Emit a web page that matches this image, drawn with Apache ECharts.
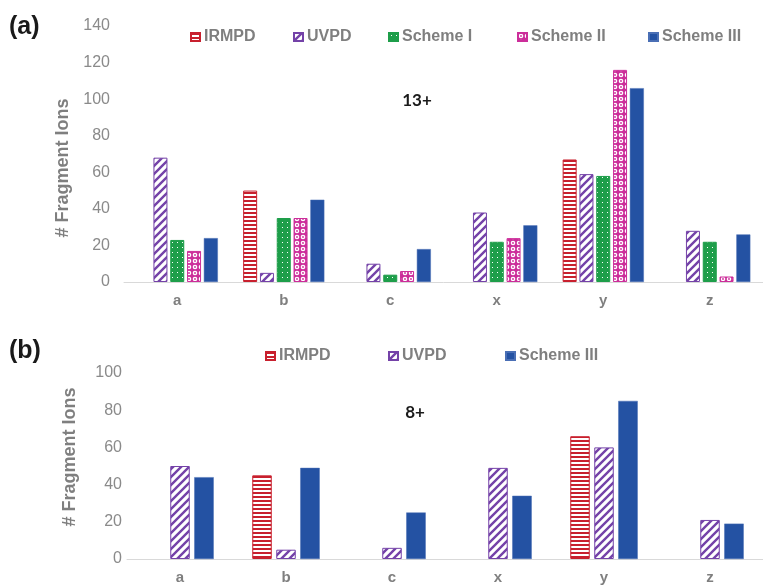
<!DOCTYPE html>
<html><head><meta charset="utf-8">
<script src="https://cdn.jsdelivr.net/npm/echarts@6/dist/echarts.min.js"></script>
<style>html,body{margin:0;padding:0;background:#fff}#c{width:763px;height:586px}</style>
</head><body><div id="c"></div>
<script>
// ---- data ----
const categories = ['a', 'b', 'c', 'x', 'y', 'z'];
const namesA = ['IRMPD', 'UVPD', 'Scheme I', 'Scheme II', 'Scheme III'];
const irmpdA   = [null, 50, null, null, 67, null];
const uvpdA    = [68, 5, 10, 38, 59, 28];
const scheme1A = [23, 35, 4, 22, 58, 22];
const scheme2A = [17, 35, 6, 24, 116, 3];
const scheme3A = [24, 45, 18, 31, 106, 26];
const namesB = ['IRMPD', 'UVPD', 'Scheme III'];
const irmpdB   = [null, 45, null, null, 66, null];
const uvpdB    = [50, 5, 6, 49, 60, 21];
const scheme3B = [44, 49, 25, 34, 85, 19];
const yMaxA = 140, yMaxB = 100, yStep = 20;
const labelA = '13+', labelB = '8+';

// ---- patterns ----
function pat(w, h, draw) {
  const c = document.createElement('canvas'); c.width = w; c.height = h;
  draw(c.getContext('2d')); return { image: c, repeat: 'repeat' };
}
const RED = '#C8202E', PURPLE = '#7442A8', GREEN = '#1E9E4A', MAG = '#CC2E9A', BLUE = '#2452A3';
const pIR = pat(4, 4, g => { g.fillStyle = '#fff'; g.fillRect(0,0,4,4); g.fillStyle = RED; g.fillRect(0,0,4,2); });
const pUV = pat(8, 8, g => { g.fillStyle = '#fff'; g.fillRect(0,0,8,8); g.strokeStyle = PURPLE; g.lineWidth = 2.4;
  g.beginPath(); g.moveTo(-1,9); g.lineTo(9,-1); g.moveTo(-1,1); g.lineTo(1,-1); g.moveTo(7,9); g.lineTo(9,7); g.stroke(); });
const pS1 = pat(5, 5, g => { g.fillStyle = GREEN; g.fillRect(0,0,5,5); g.fillStyle = '#ffffff'; g.fillRect(2,2,1,1); });
const pS2 = pat(6, 6, g => { g.fillStyle = MAG; g.fillRect(0,0,6,6); g.fillStyle = '#fff';
  g.beginPath(); g.arc(3,3,2.3,0,Math.PI*2); g.fill(); g.fillStyle = MAG; g.beginPath(); g.arc(3,3,0.9,0,Math.PI*2); g.fill(); });

const styles = {
  'IRMPD':      { color: pIR, borderColor: RED, borderWidth: 1 },
  'UVPD':       { color: pUV, borderColor: PURPLE, borderWidth: 1 },
  'Scheme I':   { color: pS1, borderColor: GREEN, borderWidth: 1 },
  'Scheme II':  { color: pS2, borderColor: MAG, borderWidth: 1 },
  'Scheme III': { color: BLUE, borderColor: '#4a6fb5', borderWidth: 0.5 }
};

const FONT = 'Liberation Sans, Arial, sans-serif';
const GRAY = '#7F7F7F';
const chart = echarts.init(document.getElementById('c'), null, { renderer: 'canvas' });

const dataA = [irmpdA, uvpdA, scheme1A, scheme2A, scheme3A];
const dataB = [irmpdB, uvpdB, scheme3B];
const series = [];
namesA.forEach((n, i) => series.push({ name: n, type: 'bar', xAxisIndex: 0, yAxisIndex: 0, data: dataA[i],
  barWidth: 14, barGap: '20%', itemStyle: styles[n], emphasis: { disabled: true } }));
namesB.forEach((n, i) => series.push({ name: n, type: 'bar', xAxisIndex: 1, yAxisIndex: 1, data: dataB[i],
  barWidth: 19.5, barGap: '23%', itemStyle: styles[n], emphasis: { disabled: true } }));

const legendPos = [
  ['IRMPD', 190, 29], ['UVPD', 293, 29], ['Scheme I', 388, 29], ['Scheme II', 517, 29], ['Scheme III', 648, 29],
  ['IRMPD', 265, 348], ['UVPD', 388, 348], ['Scheme III', 505, 348]
];
const legends = legendPos.map(([n, x, y]) => ({ data: [n], left: x, top: y, padding: 0, icon: 'rect', itemWidth: 9, itemHeight: 8, itemGap: 4,
  selectedMode: false, textStyle: { fontFamily: FONT, fontSize: 16, fontWeight: 'bold', color: GRAY, padding: [0,0,0,-1] } }));

const xAxisCommon = { type: 'category', data: categories, axisTick: { show: false },
  axisLine: { lineStyle: { color: '#D9D9D9', width: 1 } },
  axisLabel: { fontFamily: FONT, fontSize: 15, fontWeight: 'bold', color: GRAY, margin: 11 } };
const yAxisCommon = { type: 'value', min: 0, interval: yStep, splitLine: { show: false },
  axisLine: { show: false }, axisTick: { show: false } };

chart.setOption({
  animation: false,
  backgroundColor: '#fff',
  grid: [
    { left: 124, top: 26, width: 640, height: 256 },
    { left: 127, top: 373, width: 648, height: 186 }
  ],
  legend: legends,
  xAxis: [Object.assign({ gridIndex: 0 }, xAxisCommon), Object.assign({ gridIndex: 1 }, xAxisCommon)],
  yAxis: [
    Object.assign({ gridIndex: 0, max: yMaxA, axisLabel: { fontFamily: FONT, fontSize: 16, color: '#8A8A8A', margin: 14 } }, yAxisCommon),
    Object.assign({ gridIndex: 1, max: yMaxB, axisLabel: { fontFamily: FONT, fontSize: 16, color: '#8A8A8A', margin: 5 } }, yAxisCommon)
  ],
  series: series,
  graphic: [
    { type: 'text', left: 9, top: 15, style: { text: '(a)', font: 'bold 25px ' + FONT, fill: '#1a1a1a' } },
    { type: 'text', left: 9, top: 339, style: { text: '(b)', font: 'bold 25px ' + FONT, fill: '#1a1a1a' } },
    { type: 'text', x: 417, y: 101, style: { text: labelA, font: 'bold 17px Lato, sans-serif', fill: '#1a1a1a', align: 'center', verticalAlign: 'middle' } },
    { type: 'text', x: 415, y: 413, style: { text: labelB, font: 'bold 17px Lato, sans-serif', fill: '#1a1a1a', align: 'center', verticalAlign: 'middle' } },
    { type: 'text', x: 63, y: 168, rotation: Math.PI / 2, style: { text: '# Fragment Ions', font: 'bold 18px ' + FONT, fill: GRAY, align: 'center', verticalAlign: 'middle' } },
    { type: 'text', x: 70, y: 457, rotation: Math.PI / 2, style: { text: '# Fragment Ions', font: 'bold 18px ' + FONT, fill: GRAY, align: 'center', verticalAlign: 'middle' } }
  ]
});
</script></body></html>
